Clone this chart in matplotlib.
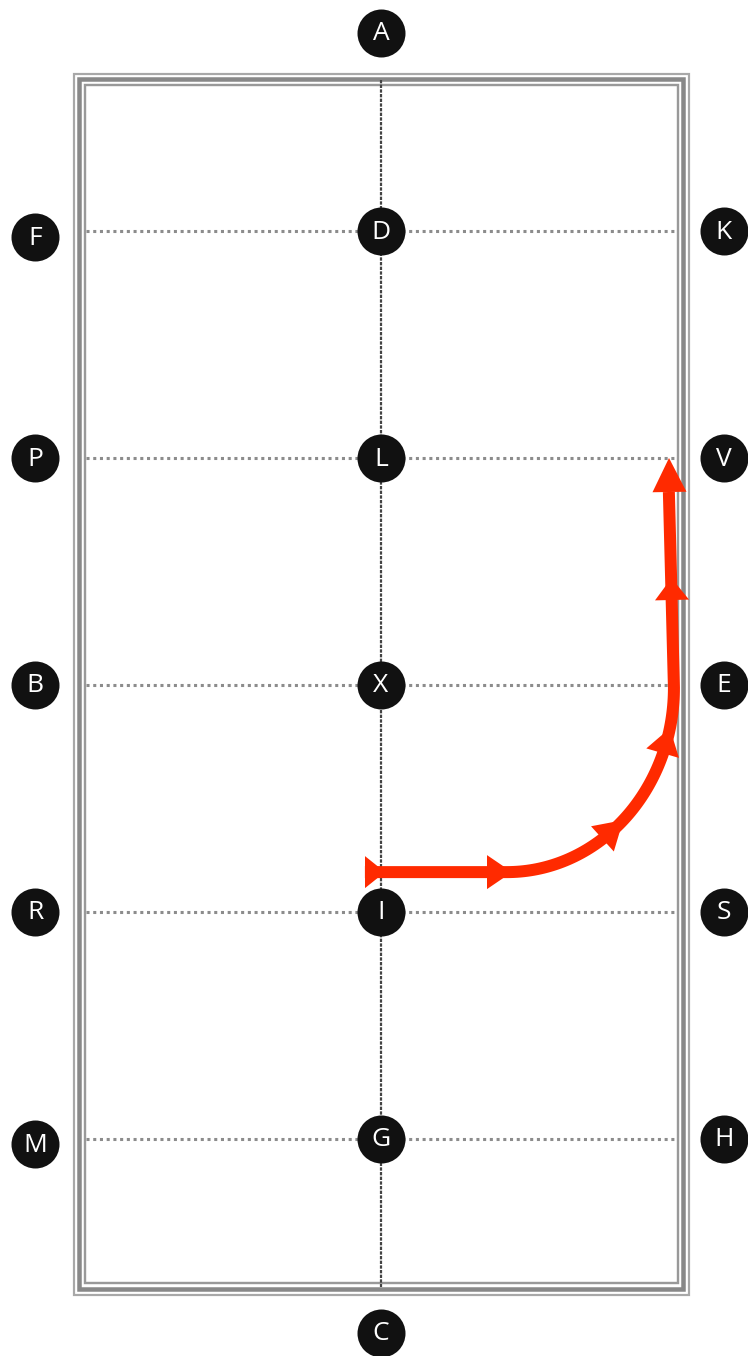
import numpy as np
import matplotlib.pyplot as plt
from matplotlib.patches import Rectangle

# arena letters (metres along a 20 x 60 arena, A end at the top)
left_letters = ["F", "P", "B", "R", "M"]
right_letters = ["K", "V", "E", "S", "H"]
centre_letters = ["D", "L", "X", "I", "G"]
row_m = [6, 18, 30, 42, 54]
end_letters = ["A", "C"]

# ridden line: straight from near I, quarter turn, then up the track to V
start_m = (9.46, 39.9)
turn_start_x = 14.23
turn_centre_y = 30.15
turn_rx = 5.6
end_m = (19.66, 18.0)

red = "#ff2a00"

fig = plt.figure(figsize=(7.48, 13.56), dpi=100)
ax = fig.add_axes([0, 0, 1, 1])
# metres -> picture: x 29.8 px/m centred at 381, y 18.9 px/m centred at 685
sx, sy = 29.8, 18.9
ax.set_xlim(10 - 381 / sx, 10 + (748 - 381) / sx)
ax.set_ylim(30 + (1356 - 685) / sy, 30 - 685 / sy)
ax.axis("off")

def mx(px):
    return 10 + (px - 381) / sx

def my(px):
    return 30 + (px - 685) / sy

# fence: three nested rectangles
for (x0, y0, x1, y1), col, lw in [((73.5, 73.5, 689.5, 1294.5), "#a8a8a8", 2.2),
                                  ((79, 79, 683.5, 1288.5), "#888888", 4.5),
                                  ((85, 85, 678, 1283), "#999999", 2.4)]:
    ax.add_patch(Rectangle((mx(x0), my(y0)), mx(x1) - mx(x0), my(y1) - my(y0),
                           fill=False, edgecolor=col, lw=lw * 0.72, zorder=1))

# centre line and quarter lines
ax.plot([10, 10], [my(80), my(1287)], color="#444444", lw=1.6,
        linestyle=(0, (1.5, 0.6)), zorder=2)
for r in row_m:
    ax.plot([mx(86), mx(677)], [r, r], color="#8c8c8c", lw=2.2,
            linestyle=(0, (1, 1.2)), zorder=2)

# letter markers
def marker(x, y, s):
    ax.scatter([x], [y], s=(48 * 0.72) ** 2, color="#111111", zorder=5,
               linewidths=0)
    ax.text(x, y + 0.05, s, color="white", fontsize=19, family="Open Sans",
            ha="center", va="center", zorder=6)

for s, r in zip(left_letters, row_m):
    marker(mx(35), r + (0.3 if s in ("F", "M") else 0), s)
for s, r in zip(right_letters, row_m):
    marker(mx(724), r, s)
for s, r in zip(centre_letters, row_m):
    marker(10, r, s)
marker(10, my(33), end_letters[0])
marker(10, my(1333), end_letters[1])

# path
turn_ry = start_m[1] - turn_centre_y

def arc(t):
    return turn_start_x + turn_rx * np.sin(t), turn_centre_y + turn_ry * np.cos(t)

t = np.linspace(0, np.pi / 2, 80)
arc_x, arc_y = arc(t)
path_x = np.concatenate([[start_m[0]], arc_x, [end_m[0]]])
path_y = np.concatenate([[start_m[1]], arc_y, [my(492)]])
ax.plot(path_x, path_y, color=red, lw=12 * 0.72, solid_capstyle="butt",
        solid_joinstyle="round", zorder=3)

def head(p_from, p_to, length, width):
    ax.annotate("", xy=p_to, xytext=p_from,
                arrowprops=dict(arrowstyle=f"-|>,head_length={length * 0.72},head_width={width * 0.72 / 2}",
                                color=red, lw=0, mutation_scale=1,
                                shrinkA=0, shrinkB=0), zorder=4)

# start tail marker
head((mx(365), start_m[1]), (mx(385), start_m[1]), 20, 32)
# mid heads
head((mx(487), start_m[1]), (mx(512), start_m[1]), 25, 34)
head(arc(0.6), arc(0.77), 28, 34)
head(arc(1.17), arc(1.35), 26, 34)
head((mx(672), my(600)), (mx(671.5), my(578)), 22, 34)
# final head
head((mx(669.5), my(492)), (mx(669), my(458)), 34, 34)

fig.savefig("out.png", dpi=100)
